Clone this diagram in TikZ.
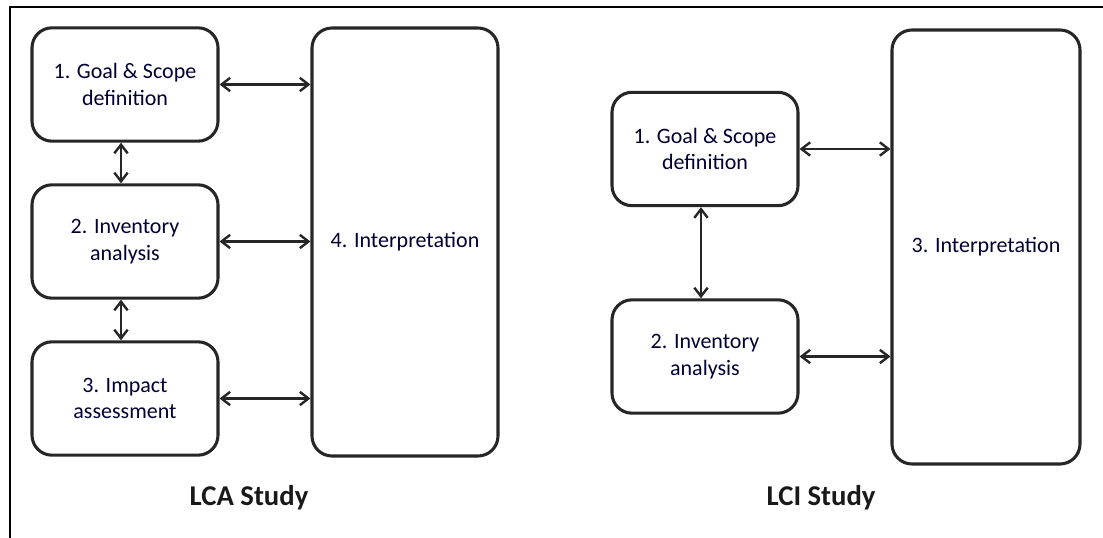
\documentclass[tikz,border=0pt]{standalone}
\usepackage{fontspec}
\setmainfont{Carlito}
\usetikzlibrary{arrows.meta}
\begin{document}
\begin{tikzpicture}[x=0.75pt,y=-0.75pt,
  box/.style={draw=black!85, line width=2.3pt, rounded corners=15pt, align=center,
    font=\fontsize{16.5}{20}\selectfont, text=black!80!blue, inner sep=0pt},
  link/.style={line width=2pt, black!85, {Straight Barb[length=6.5pt,width=10pt,line width=1.8pt]}-{Straight Barb[length=6.5pt,width=10pt,line width=1.8pt]}},
  title/.style={font=\fontsize{21.5}{26}\bfseries\selectfont, text=black!90}]
\useasboundingbox (0,0) rectangle (1103,538);
\draw[line width=1.8pt] (10,538) coordinate (bl) -- (10,7) coordinate (tl) -- (1103,7) coordinate (tr);
% LCA
\node[box, minimum width=139.5pt, minimum height=85pt] (a1) at (125,84.5) {1. Goal \& Scope\\definition};
\node[box, minimum width=139.5pt, minimum height=85pt] (a2) at (125,241.5) {2. Inventory\\analysis};
\node[box, minimum width=139.5pt, minimum height=85pt] (a3) at (125,398.5) {3. Impact\\assessment};
\node[box, minimum width=139.5pt, minimum height=321pt] (a4) at (405,242) {4. Interpretation};
\draw[link] (a1.east) -- (a1.east -| a4.west);
\draw[link] (a2.east) -- (a2.east -| a4.west);
\draw[link] (a3.east) -- (a3.east -| a4.west);
\draw[link] ([xshift=-3pt]a1.south) -- ([xshift=-3pt]a2.north);
\draw[link] ([xshift=-3pt]a2.south) -- ([xshift=-3pt]a3.north);
\node[title] (t1) at (249,498) {LCA Study};
% LCI
\node[box, minimum width=139.5pt, minimum height=85pt] (b1) at (705,149) {1. Goal \& Scope\\definition};
\node[box, minimum width=139.5pt, minimum height=85pt] (b2) at (705,356.5) {2. Inventory\\analysis};
\node[box, minimum width=141pt, minimum height=325.5pt] (b3) at (986,247) {3. Interpretation};
\draw[link] (b1.east) -- (b1.east -| b3.west);
\draw[link] (b2.east) -- (b2.east -| b3.west);
\draw[link] ([xshift=-3pt]b1.south) -- ([xshift=-3pt]b2.north);
\node[title] (t2) at (821,498) {LCI Study};
\end{tikzpicture}
\end{document}
